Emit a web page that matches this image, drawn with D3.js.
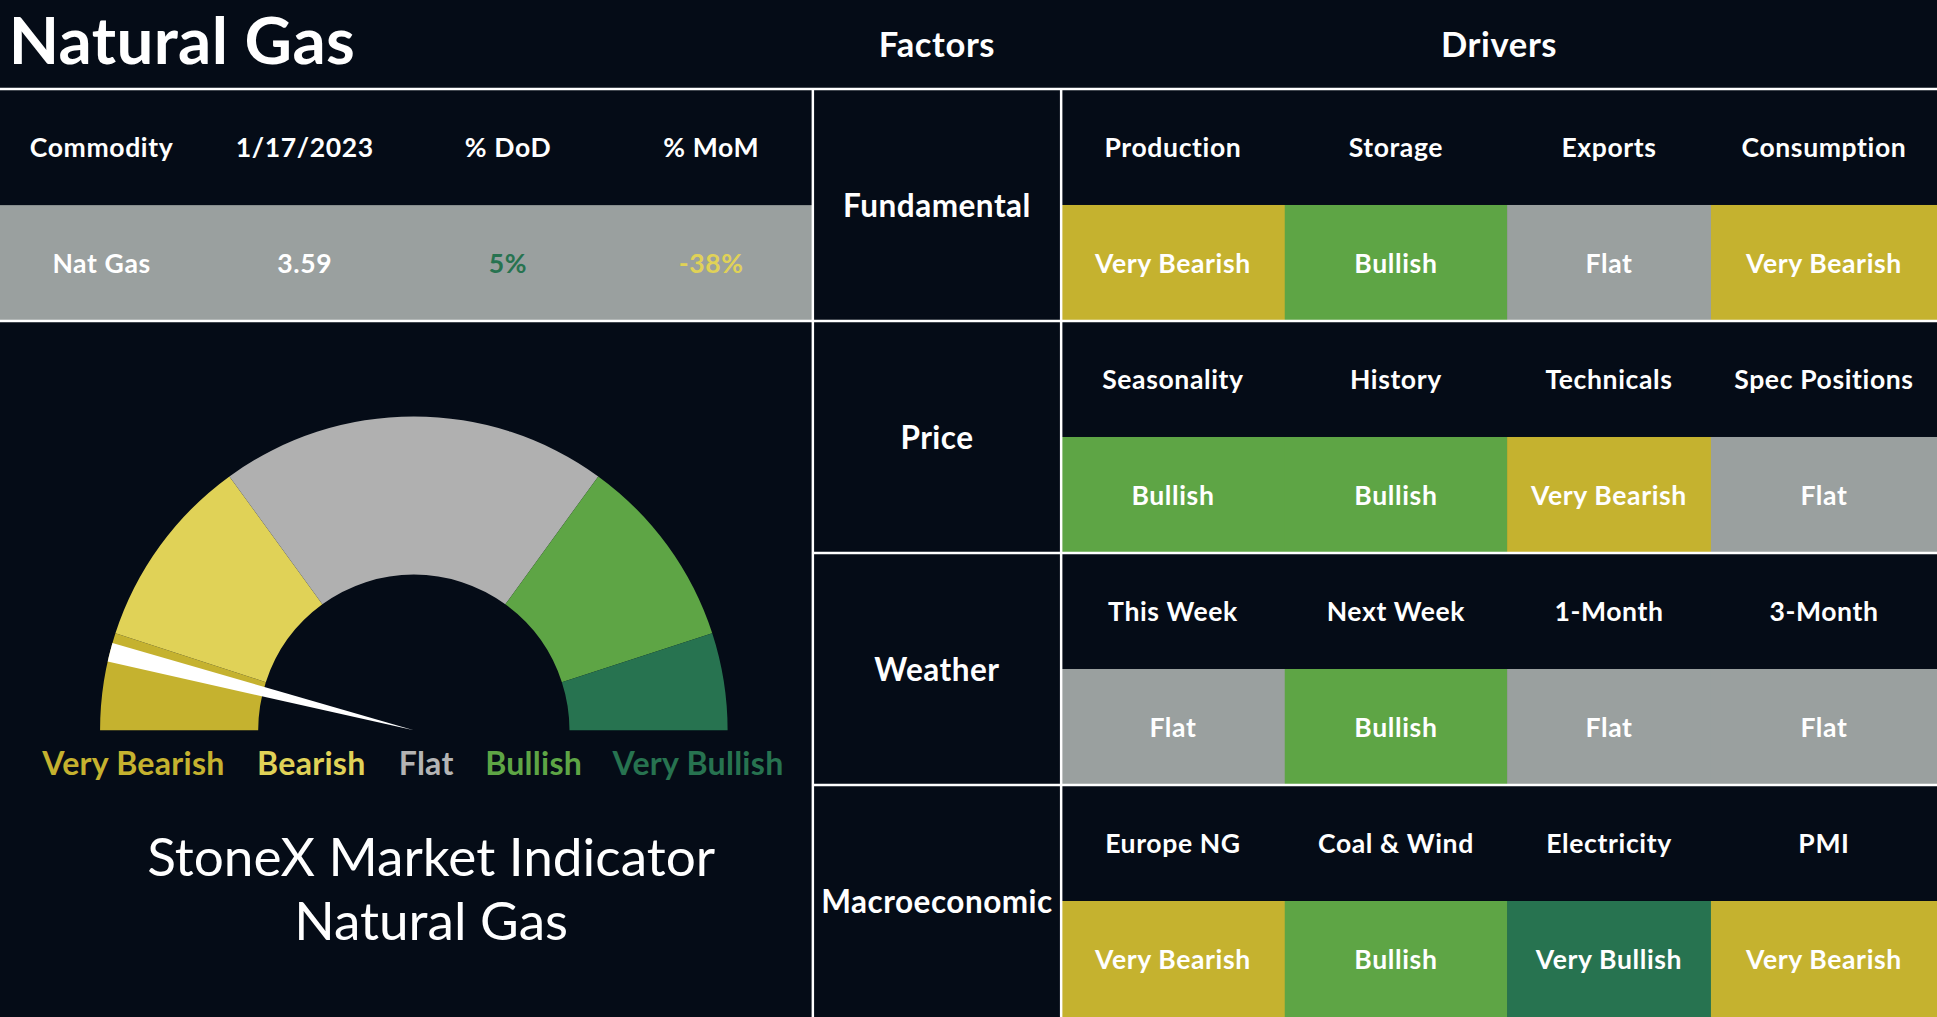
<!DOCTYPE html>
<html>
<head>
<meta charset="utf-8">
<script src="https://cdn.jsdelivr.net/npm/d3@7"></script>
<style>
  html, body { margin: 0; padding: 0; background: #050c17; overflow: hidden; }
  svg { display: block; font-family: 'Lato', 'Noto Sans', sans-serif; }
</style>
</head>
<body>
<svg id="chart"></svg>
<script>
// commodity snapshot
const commodityHeaders = ['Commodity', '1/17/2023', '% DoD', '% MoM'];
const commodityRow = ['Nat Gas', '3.59', '5%', '-38%'];

// factor / driver matrix
const factors = ['Fundamental', 'Price', 'Weather', 'Macroeconomic'];
const drivers = [
  ['Production', 'Storage', 'Exports', 'Consumption'],
  ['Seasonality', 'History', 'Technicals', 'Spec Positions'],
  ['This Week', 'Next Week', '1-Month', '3-Month'],
  ['Europe NG', 'Coal & Wind', 'Electricity', 'PMI']
];
const signals = [
  ['Very Bearish', 'Bullish', 'Flat', 'Very Bearish'],
  ['Bullish', 'Bullish', 'Very Bearish', 'Flat'],
  ['Flat', 'Bullish', 'Flat', 'Flat'],
  ['Very Bearish', 'Bullish', 'Very Bullish', 'Very Bearish']
];

// gauge
const gaugeLevels = ['Very Bearish', 'Bearish', 'Flat', 'Bullish', 'Very Bullish'];
const gaugeShares = [10, 20, 40, 20, 10];
const needleValue = 8; // 0..100 across the dial

const W = 1568, H = 823;
const BG = '#050c17';
const signalColor = {
  'Very Bearish': '#c5b22f',
  'Bearish': '#e0d257',
  'Flat': '#9aa09f',
  'Bullish': '#5ea545',
  'Very Bullish': '#277350'
};
const gaugeColor = Object.assign({}, signalColor, { 'Flat': '#b0b0b0' });
const legendColor = Object.assign({}, signalColor, { 'Flat': '#b4b4b4' });

const svg = d3.select('#chart')
  .attr('width', 1937)
  .attr('height', 1017)
  .attr('viewBox', `0 0 ${W} ${H}`)
  .attr('preserveAspectRatio', 'none');

svg.append('rect').attr('width', W).attr('height', H).attr('fill', BG);

// header
svg.append('text')
  .attr('x', 7).attr('y', 52)
  .attr('fill', '#fff').attr('font-size', 53).attr('font-weight', 700)
  .attr('letter-spacing', 0.3)
  .text('Natural Gas');

const leftW = 658, factorX = [658, 859];
const headerY = d3.scaleBand().domain(d3.range(factors.length)).range([72, H]);

svg.selectAll('text.head')
  .data([['Factors', (factorX[0] + factorX[1]) / 2], ['Drivers', (factorX[1] + W) / 2]])
  .join('text')
  .attr('class', 'head')
  .attr('x', d => d[1]).attr('y', 35)
  .attr('text-anchor', 'middle').attr('dominant-baseline', 'central')
  .attr('fill', '#fff').attr('font-size', 28).attr('font-weight', 700)
  .attr('letter-spacing', 0.5)
  .text(d => d[0]);

// commodity table
const commodityX = d3.scaleBand().domain(d3.range(commodityHeaders.length)).range([0, leftW]);
const snapTop = 72, snapRowH = 94;
svg.append('rect')
  .attr('x', 0).attr('y', snapTop + snapRowH)
  .attr('width', leftW).attr('height', snapRowH)
  .attr('fill', signalColor['Flat']);

svg.selectAll('text.chead')
  .data(commodityHeaders)
  .join('text')
  .attr('class', 'chead')
  .attr('x', (d, i) => commodityX(i) + commodityX.bandwidth() / 2)
  .attr('y', snapTop + snapRowH / 2)
  .attr('text-anchor', 'middle').attr('dominant-baseline', 'central')
  .attr('fill', '#fff').attr('font-size', 21.5).attr('font-weight', 700)
  .attr('letter-spacing', 0.5)
  .text(d => d);

const rowTextColor = ['#ffffff', '#ffffff', '#277350', '#e0d257'];
svg.selectAll('text.cval')
  .data(commodityRow)
  .join('text')
  .attr('class', 'cval')
  .attr('x', (d, i) => commodityX(i) + commodityX.bandwidth() / 2)
  .attr('y', snapTop + snapRowH * 1.5)
  .attr('text-anchor', 'middle').attr('dominant-baseline', 'central')
  .attr('fill', (d, i) => rowTextColor[i]).attr('font-size', 21.5).attr('font-weight', 700)
  .attr('letter-spacing', 0.5)
  .text(d => d);

// factor / driver grid
const driverEdges = [859, 1040, 1220, 1385, W];
const blockH = headerY.bandwidth();

const blocks = svg.selectAll('g.block')
  .data(factors)
  .join('g')
  .attr('class', 'block')
  .attr('transform', (d, i) => `translate(0,${headerY(i)})`);

blocks.append('text')
  .attr('x', (factorX[0] + factorX[1]) / 2)
  .attr('y', blockH / 2)
  .attr('text-anchor', 'middle').attr('dominant-baseline', 'central')
  .attr('fill', '#fff').attr('font-size', 25.5).attr('font-weight', 700)
  .attr('letter-spacing', 0.4)
  .text(d => d);

blocks.each(function (f, i) {
  const g = d3.select(this);
  const cells = drivers[i].map((name, j) => ({
    name, signal: signals[i][j], x0: driverEdges[j], x1: driverEdges[j + 1]
  }));
  g.selectAll('rect.cell')
    .data(cells)
    .join('rect')
    .attr('class', 'cell')
    .attr('x', d => d.x0).attr('y', blockH / 2)
    .attr('width', d => d.x1 - d.x0 + 0.5).attr('height', blockH / 2)
    .attr('fill', d => signalColor[d.signal]);
  g.selectAll('text.drv')
    .data(cells)
    .join('text')
    .attr('class', 'drv')
    .attr('x', d => (d.x0 + d.x1) / 2).attr('y', blockH / 4)
    .attr('text-anchor', 'middle').attr('dominant-baseline', 'central')
    .attr('fill', '#fff').attr('font-size', 21.5).attr('font-weight', 700)
    .attr('letter-spacing', 0.5)
    .text(d => d.name);
  g.selectAll('text.sig')
    .data(cells)
    .join('text')
    .attr('class', 'sig')
    .attr('x', d => (d.x0 + d.x1) / 2).attr('y', blockH * 3 / 4)
    .attr('text-anchor', 'middle').attr('dominant-baseline', 'central')
    .attr('fill', '#fff').attr('font-size', 21.5).attr('font-weight', 700)
    .attr('letter-spacing', 0.5)
    .text(d => d.signal);
});

// grid lines
const lines = [
  [0, 72, W, 72],
  [0, headerY(1), W, headerY(1)],
  [factorX[0], headerY(2), W, headerY(2)],
  [factorX[0], headerY(3), W, headerY(3)],
  [factorX[0], 72, factorX[0], H],
  [factorX[1], 72, factorX[1], H]
];
svg.selectAll('line.grid')
  .data(lines)
  .join('line')
  .attr('class', 'grid')
  .attr('x1', d => d[0]).attr('y1', d => d[1])
  .attr('x2', d => d[2]).attr('y2', d => d[3])
  .attr('stroke', '#fff').attr('stroke-width', 2);

// gauge
const cx = 335, cy = 591, R = 254, r = 126;
const angle = d3.scaleLinear().domain([0, 100]).range([-Math.PI / 2, Math.PI / 2]);
const pie = d3.pie().sort(null).startAngle(-Math.PI / 2).endAngle(Math.PI / 2);
const arc = d3.arc().innerRadius(r).outerRadius(R);
const gauge = svg.append('g').attr('transform', `translate(${cx},${cy})`);

gauge.selectAll('path.seg')
  .data(pie(gaugeShares))
  .join('path')
  .attr('class', 'seg')
  .attr('d', arc)
  .attr('fill', (d, i) => gaugeColor[gaugeLevels[i]]);

const needleHalf = 1.75 * Math.PI / 180;
gauge.append('path')
  .attr('d', d3.arc()({
    innerRadius: 0, outerRadius: R,
    startAngle: angle(needleValue) - needleHalf,
    endAngle: angle(needleValue) + needleHalf
  }))
  .attr('fill', '#fff');

const legendX = [108, 252, 345, 432, 565];
svg.selectAll('text.legend')
  .data(gaugeLevels)
  .join('text')
  .attr('class', 'legend')
  .attr('x', (d, i) => legendX[i]).attr('y', 617)
  .attr('text-anchor', 'middle').attr('dominant-baseline', 'central')
  .attr('fill', d => legendColor[d]).attr('font-size', 26).attr('font-weight', 700)
  .attr('letter-spacing', 0.2)
  .text(d => d);

svg.selectAll('text.title')
  .data(['StoneX Market Indicator', 'Natural Gas'])
  .join('text')
  .attr('class', 'title')
  .attr('x', 349).attr('y', (d, i) => 692 + i * 52)
  .attr('text-anchor', 'middle').attr('dominant-baseline', 'central')
  .attr('fill', '#fff').attr('font-size', 43)
  .text(d => d);
</script>
</body>
</html>
